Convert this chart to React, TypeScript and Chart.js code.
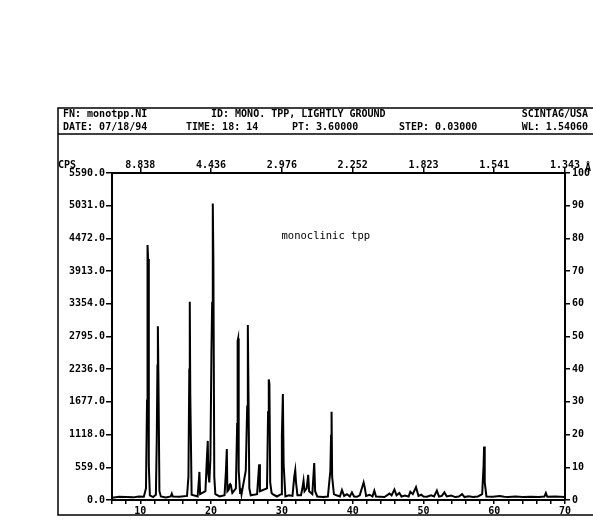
import React, { useEffect, useRef } from "react";
import { Chart, registerables } from "chart.js";

Chart.register(...registerables);

// 2-theta (degrees) and counts (CPS)
const twoTheta: number[] = [
  6.0, 7.0, 8.0, 9.0, 9.8, 10.5, 10.8, 10.95, 11.02, 11.1, 11.2, 11.35,
  11.8, 12.2, 12.32, 12.42, 12.48, 12.56, 12.7, 12.9, 13.6, 14.3, 14.45, 14.6,
  15.5, 16.6, 16.8, 16.92, 16.99, 17.06, 17.25, 18.1, 18.28, 18.35, 18.45,
  19.2, 19.4, 19.53, 19.6, 19.75, 19.9, 20.05, 20.15, 20.24, 20.32,
  20.45, 20.6, 21.2, 21.9, 22.1, 22.22, 22.3, 22.5, 22.6, 22.69, 22.8,
  23.0, 23.5, 23.68, 23.75, 23.82, 23.9, 24.1, 24.2, 24.3, 24.9,
  25.1, 25.19, 25.26, 25.4, 25.6, 26.5, 26.7, 26.79, 26.9, 27.9,
  28.05, 28.15, 28.24, 28.35, 28.55, 28.7, 29.3, 29.9, 30.0, 30.14, 30.25,
  30.5, 31.0, 31.5, 31.75, 31.89, 32.0, 32.2, 32.7, 32.9, 33.06, 33.2,
  33.5, 33.72, 33.85, 34.3, 34.57, 34.7, 35.0, 35.8, 36.5, 36.85, 36.95,
  37.02, 37.1, 37.35, 37.7, 38.2, 38.49, 38.8, 39.2, 39.6, 39.9, 40.2, 40.6, 41.0,
  41.4, 41.55, 41.7, 41.9, 42.4, 42.8, 43.06, 43.3, 43.9, 44.5, 45.2, 45.5,
  45.9, 46.2, 46.6, 46.9, 47.4, 47.9, 48.15, 48.5, 48.95, 49.3, 49.7, 50.0, 50.5,
  51.07, 51.5, 51.9, 52.2, 52.6, 52.96, 53.3, 53.9, 54.5, 55.0, 55.46, 55.8, 56.4, 57.0,
  57.7, 58.3, 58.5, 58.57, 58.66, 58.9, 59.8, 60.8, 61.4, 62.0, 63.0, 64.0, 65.2, 66.3, 67.1, 67.3,
  67.5, 68.6, 70.0,
];

const counts: number[] = [
  40, 55, 50, 45, 60, 55, 200, 1700, 4360, 4120, 600, 80,
  50, 90, 1000, 2300, 2970, 2080, 150, 60, 45, 60, 110, 60,
  55, 70, 400, 2230, 3390, 1800, 90, 60, 350, 480, 100,
  150, 700, 1010, 450, 300, 700, 2540, 3370, 5070, 4140,
  400, 100, 60, 80, 500, 870, 150, 180, 260, 270, 240,
  120, 200, 1300, 2720, 2760, 500, 120, 200, 100, 500,
  1600, 2990, 2100, 200, 80, 100, 450, 610, 150, 200,
  1500, 2060, 1980, 300, 120, 100, 60, 100, 1100, 1810, 600,
  60, 80, 70, 400, 510, 300, 80, 80, 200, 330, 150,
  200, 430, 150, 100, 630, 150, 60, 50, 60, 500, 1100,
  1510, 400, 100, 80, 60, 170, 70, 100, 60, 130, 60, 55, 80,
  240, 300, 220, 70, 90, 60, 160, 60, 55, 50, 110, 80,
  180, 80, 120, 60, 75, 60, 140, 100, 220, 70, 90, 60, 55,
  80, 60, 160, 60, 70, 130, 60, 75, 50, 60, 100, 50, 65, 50,
  60, 100, 600, 915, 300, 60, 55, 70, 55, 50, 60, 50, 55, 50, 60, 120,
  55, 60, 50,
];

// top axis: d-spacing labels at 2-theta 10..70
const topTickAngles: number[] = [10, 20, 30, 40, 50, 60, 70];
const topTickLabels: string[] = ["8.838", "4.436", "2.976", "2.252", "1.823", "1.541", "1.343"];

const headerRow1: string[] = ["FN: monotpp.NI", "ID: MONO. TPP, LIGHTLY GROUND", "SCINTAG/USA"];
const headerRow2: string[] = ["DATE: 07/18/94", "TIME: 18: 14", "PT: 3.60000", "STEP: 0.03000", "WL: 1.54060"];
const annotation = "monoclinic tpp";

const FONT = "'DejaVu Sans Mono', 'Liberation Mono', monospace";

const decorPlugin = {
  id: "decor",
  afterDraw(chart: any) {
    const ctx = chart.ctx as CanvasRenderingContext2D;
    const xs = chart.scales.x;
    const ys = chart.scales.y;
    ctx.save();
    ctx.strokeStyle = "#000";
    ctx.lineWidth = 1.5;
    // outer frame
    ctx.beginPath();
    ctx.moveTo(596, 108);
    ctx.lineTo(58, 108);
    ctx.lineTo(58, 515);
    ctx.lineTo(596, 515);
    ctx.stroke();
    // header separator
    ctx.beginPath();
    ctx.moveTo(58, 134);
    ctx.lineTo(596, 134);
    ctx.stroke();

    ctx.fillStyle = "#000";
    ctx.font = `bold 10px ${FONT}`;
    ctx.textBaseline = "middle";
    ctx.textAlign = "left";
    ctx.fillText(headerRow1[0], 63, 114);
    ctx.fillText(headerRow1[1], 211, 114);
    ctx.textAlign = "right";
    ctx.fillText(headerRow1[2], 588, 114);
    ctx.textAlign = "left";
    ctx.fillText(headerRow2[0], 63, 127);
    ctx.fillText(headerRow2[1], 186, 127);
    ctx.fillText(headerRow2[2], 292, 127);
    ctx.fillText(headerRow2[3], 399, 127);
    ctx.textAlign = "right";
    ctx.fillText(headerRow2[4], 588, 127);

    // CPS label and Angstrom sign
    ctx.textAlign = "left";
    ctx.fillText("CPS", 58, 165);
    ctx.fillText("Å", 585, 168);

    // annotation in plot
    ctx.font = `10.5px ${FONT}`;
    ctx.fillText(annotation, xs.getPixelForValue(29.95), ys.getPixelForValue(4500));
    ctx.restore();
  },
};

export default function App() {
  const ref = useRef<HTMLCanvasElement | null>(null);

  useEffect(() => {
    if (!ref.current) return;
    const data = twoTheta.map((t, i) => ({ x: t, y: counts[i] }));
    const tickFont = { family: FONT, size: 10, weight: "bold" as const };
    const chart = new Chart(ref.current, {
      type: "line",
      data: {
        datasets: [
          {
            data,
            xAxisID: "x",
            yAxisID: "y",
            borderColor: "#000",
            borderWidth: 2,
            pointRadius: 0,
            tension: 0,
            fill: false,
          },
        ],
      },
      options: {
        responsive: false,
        animation: false,
        events: [],
        layout: { padding: 0 },
        plugins: { legend: { display: false }, tooltip: { enabled: false } },
        scales: {
          x: {
            type: "linear",
            position: "bottom",
            min: 6,
            max: 70,
            afterFit: (s: any) => { s.height = 31; },
            ticks: {
              stepSize: 2,
              autoSkip: false,
              maxRotation: 0,
              padding: 1,
              color: "#000",
              font: tickFont,
              callback: (v: any) => (Number(v) % 10 === 0 ? String(v) : ""),
            },
            grid: { drawOnChartArea: false, tickLength: 4, color: "#000", lineWidth: 1.5 },
            border: { display: true, color: "#000", width: 2 },
          },
          x2: {
            type: "linear",
            position: "top",
            min: 6,
            max: 70,
            afterFit: (s: any) => { s.height = 173; },
            afterBuildTicks: (s: any) => { s.ticks = topTickAngles.map((v) => ({ value: v })); },
            ticks: {
              autoSkip: false,
              maxRotation: 0,
              padding: -3,
              color: "#000",
              font: tickFont,
              callback: (v: any) => {
                const i = topTickAngles.indexOf(Number(v));
                return i >= 0 ? topTickLabels[i] : "";
              },
            },
            grid: { drawOnChartArea: false, tickLength: 5, color: "#000", lineWidth: 1.5 },
            border: { display: true, color: "#000", width: 2 },
          },
          y: {
            type: "linear",
            position: "left",
            min: 0,
            max: 5590,
            afterFit: (s: any) => { s.width = 112; },
            ticks: {
              stepSize: 559,
              autoSkip: false,
              padding: 1,
              color: "#000",
              font: tickFont,
              callback: (v: any) => Number(v).toFixed(1),
            },
            grid: { drawOnChartArea: false, tickLength: 6, color: "#000", lineWidth: 1.5 },
            border: { display: true, color: "#000", width: 2 },
          },
          y2: {
            type: "linear",
            position: "right",
            min: 0,
            max: 100,
            afterFit: (s: any) => { s.width = 28; },
            ticks: {
              stepSize: 10,
              autoSkip: false,
              padding: 2,
              color: "#000",
              font: tickFont,
            },
            grid: { drawOnChartArea: false, tickLength: 5, color: "#000", lineWidth: 1.5 },
            border: { display: true, color: "#000", width: 2 },
          },
        },
      },
      plugins: [decorPlugin],
    });
    return () => chart.destroy();
  }, []);

  return (
    <div style={{ position: "fixed", left: 0, top: 0, width: 593, height: 531, background: "#fff" }}>
      <canvas ref={ref} width={593} height={531} style={{ display: "block" }} />
    </div>
  );
}
